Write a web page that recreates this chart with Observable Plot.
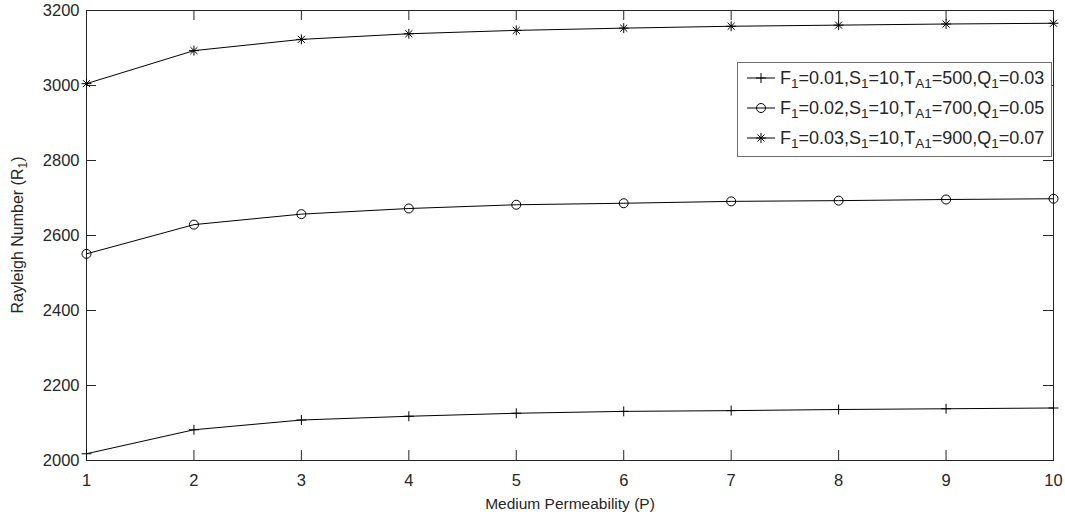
<!DOCTYPE html>
<html>
<head>
<meta charset="utf-8">
<script src="https://cdn.jsdelivr.net/npm/d3@7"></script>
<script src="https://cdn.jsdelivr.net/npm/@observablehq/plot@0.6"></script>
<style>
  body { margin: 0; background: #fff; }
  #chart { position: relative; width: 1065px; height: 520px; }
  svg { font-family: "Liberation Sans", Arial, Helvetica, sans-serif; }
</style>
</head>
<body>
<div id="chart"></div>
<script>
// ---- data ----
const P = [1, 2, 3, 4, 5, 6, 7, 8, 9, 10];
const R_case1 = [2018, 2082, 2108, 2118, 2126, 2131, 2133, 2136, 2138, 2140];
const R_case2 = [2551, 2629, 2657, 2672, 2682, 2686, 2691, 2693, 2696, 2698];
const R_case3 = [3005, 3093, 3123, 3138, 3147, 3153, 3158, 3161, 3164, 3166];

const F1 = ["0.01", "0.02", "0.03"];
const S1 = ["10", "10", "10"];
const TA1 = ["500", "700", "900"];
const Q1 = ["0.03", "0.05", "0.07"];

const xTicks = [1, 2, 3, 4, 5, 6, 7, 8, 9, 10];
const yTicks = [2000, 2200, 2400, 2600, 2800, 3000, 3200];

const xLabel = "Medium Permeability (P)";
const yLabelParts = [["Rayleigh Number (R", false], ["1", true], [")", false]];

// ---- build table ----
const seriesNames = ["case1", "case2", "case3"];
const seriesValues = [R_case1, R_case2, R_case3];
const rows = seriesNames.flatMap((s, k) => P.map((p, i) => ({series: s, P: p, R: seriesValues[k][i]})));
const bySeries = s => rows.filter(d => d.series === s);

const W = 1065, H = 520, ML = 86, MR = 12, MT = 10, MB = 60;
const innerW = W - ML - MR, innerH = H - MT - MB, TICK = 10;
const ink = "#262626";

const chart = Plot.plot({
  width: W,
  height: H,
  marginLeft: ML,
  marginRight: MR,
  marginTop: MT,
  marginBottom: MB,
  style: {fontFamily: '"Liberation Sans", Arial, sans-serif', fontSize: "16px", color: ink, background: "#fff"},
  x: {domain: [1, 10]},
  y: {domain: [2000, 3200]},
  marks: [
    Plot.axisX(xTicks, {tickSize: 0, tickPadding: 14, tickFormat: d => String(d), label: null, fontSize: 16.5}),
    Plot.axisY(yTicks, {tickSize: 0, tickPadding: 7, tickFormat: d => String(d), label: null, fontSize: 16.5}),
    // inward ticks on all four sides
    Plot.ruleX(xTicks, {insetTop: innerH - TICK, stroke: ink}),
    Plot.ruleX(xTicks, {insetBottom: innerH - TICK, stroke: ink}),
    Plot.ruleY(yTicks, {insetRight: innerW - TICK, stroke: ink}),
    Plot.ruleY(yTicks, {insetLeft: innerW - TICK, stroke: ink}),
    Plot.frame({stroke: ink}),
    Plot.line(rows, {x: "P", y: "R", z: "series", stroke: "#000", strokeWidth: 1}),
    Plot.dot(bySeries("case1"), {x: "P", y: "R", symbol: "plus", r: 3.3, stroke: "#000", strokeWidth: 1}),
    Plot.dot(bySeries("case2"), {x: "P", y: "R", symbol: "circle", r: 4.5, stroke: "#000", strokeWidth: 1, fill: "none"}),
    Plot.dot(bySeries("case3"), {x: "P", y: "R", symbol: "plus", r: 3.3, stroke: "#000", strokeWidth: 1}),
    Plot.dot(bySeries("case3"), {x: "P", y: "R", symbol: "times", r: 3.3, stroke: "#000", strokeWidth: 1}),
    Plot.text([xLabel], {frameAnchor: "bottom", dy: 48, fontSize: 15.5, fill: ink})
  ]
});

const svg = d3.select(chart);

// y label with subscript
const yl = svg.append("text")
  .attr("transform", "translate(23,235) rotate(-90)")
  .attr("text-anchor", "middle")
  .attr("fill", ink)
  .attr("font-size", 16);
yLabelParts.forEach(([t, sub]) => {
  yl.append("tspan").attr("font-size", sub ? 12 : 16).attr("dy", sub ? 4 : (t === ")" ? -4 : 0)).text(t);
});

// legend
const legendSymbols = [[d3.symbolPlus], [d3.symbolCircle], [d3.symbolPlus, d3.symbolTimes]];
const legendR = [3.3, 4.5, 3.3];
const lg = svg.append("g").attr("text-anchor", "start");
lg.append("rect").attr("x", 737.5).attr("y", 62.5).attr("width", 314).attr("height", 94)
  .attr("fill", "#fff").attr("stroke", "#6e6e6e").attr("stroke-width", 1);
[0, 1, 2].forEach(i => {
  const cy = 78 + i * 30;
  const row = lg.append("g");
  row.append("line").attr("x1", 747).attr("x2", 775).attr("y1", cy).attr("y2", cy)
    .attr("stroke", "#000").attr("stroke-width", 1);
  legendSymbols[i].forEach(sym => {
    row.append("path").attr("transform", `translate(761,${cy})`)
      .attr("d", d3.symbol(sym, Math.PI * legendR[i] * legendR[i])())
      .attr("fill", "none").attr("stroke", "#000").attr("stroke-width", 1);
  });
  const parts = [["F", 0], ["1", 1], ["=" + F1[i] + ",", 0], ["S", 0], ["1", 1], ["=" + S1[i] + ",", 0],
                 ["T", 0], ["A1", 1], ["=" + TA1[i] + ",", 0], ["Q", 0], ["1", 1], ["=" + Q1[i], 0]];
  const tx = row.append("text").attr("x", 780).attr("y", cy + 5.5).attr("fill", ink)
    .attr("font-size", 18).attr("text-anchor", "start");
  let prevSub = 0;
  parts.forEach(([t, sub]) => {
    tx.append("tspan").attr("font-size", sub ? 13.5 : 18)
      .attr("dy", sub && !prevSub ? 4.5 : (!sub && prevSub ? -4.5 : 0)).text(t);
    prevSub = sub;
  });
});

document.getElementById("chart").appendChild(chart);
</script>
</body>
</html>
